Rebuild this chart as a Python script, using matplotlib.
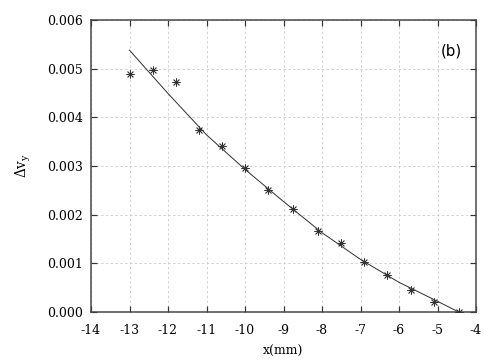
import numpy as np
import matplotlib
matplotlib.use('Agg')
import matplotlib.pyplot as plt

plt.rcParams['mathtext.fontset'] = 'dejavuserif'

# measured points
x_pts = [-13.0, -12.4, -11.8, -11.2, -10.6, -10.0, -9.4, -8.75, -8.1, -7.5,
         -6.9, -6.3, -5.7, -5.1, -4.45]
dv_pts = [0.00490, 0.00497, 0.00473, 0.00374, 0.00341, 0.00295, 0.00251,
          0.00211, 0.00167, 0.00141, 0.00103, 0.00077, 0.00046, 0.00021, 0.00001]

# fitted curve
x_fit = [-13.0, -12.0, -11.0, -10.0, -9.0, -8.0, -7.0, -6.0, -5.0, -4.45]
dv_fit = [0.00538, 0.00449, 0.00364, 0.00293, 0.00227, 0.00163, 0.00108,
          0.00061, 0.00022, 0.0]

xticks = [-14, -13, -12, -11, -10, -9, -8, -7, -6, -5, -4]
yticks = [0.0, 0.001, 0.002, 0.003, 0.004, 0.005, 0.006]

fig = plt.figure(figsize=(7, 5), dpi=72)
ax = fig.add_axes([91/504, 48/360, 385/504, 292/360])

ax.plot(x_fit, dv_fit, color='#333333', lw=1.0, zorder=3)
ax.plot(x_pts, dv_pts, ls='none', marker=(8, 2, 0), ms=8, mew=0.8,
        color='#333333', zorder=4)

ax.set_xlim(-14, -4)
ax.set_ylim(0, 0.006)
ax.set_xticks(xticks)
ax.set_yticks(yticks)
ax.set_xticklabels([str(t) for t in xticks])
ax.set_yticklabels(['%.3f' % t for t in yticks])

ax.grid(True, ls=(0, (3, 3)), color='#c8c8c8', lw=0.8)
ax.tick_params(direction='in', length=6, width=1.2, top=True, right=True,
               colors='#333333', labelcolor='black', labelsize=12.5)
ax.tick_params(axis='x', pad=12)
ax.tick_params(axis='y', pad=8)
for lab in ax.get_xticklabels() + ax.get_yticklabels():
    lab.set_family('DejaVu Serif')
for s in ax.spines.values():
    s.set_color('#444444')
    s.set_linewidth(1.5)

ax.set_xlabel('x(mm)', family='DejaVu Serif', fontsize=12.5, labelpad=8)
ax.set_ylabel(r'$\Delta\mathregular{v}_\mathregular{y}$', family='DejaVu Serif',
              fontsize=13.5, labelpad=14)
ax.text(0.963, 0.895, '(b)', transform=ax.transAxes, ha='right', va='center',
        fontsize=15, family='DejaVu Sans')

fig.savefig('out.png', dpi=72)
